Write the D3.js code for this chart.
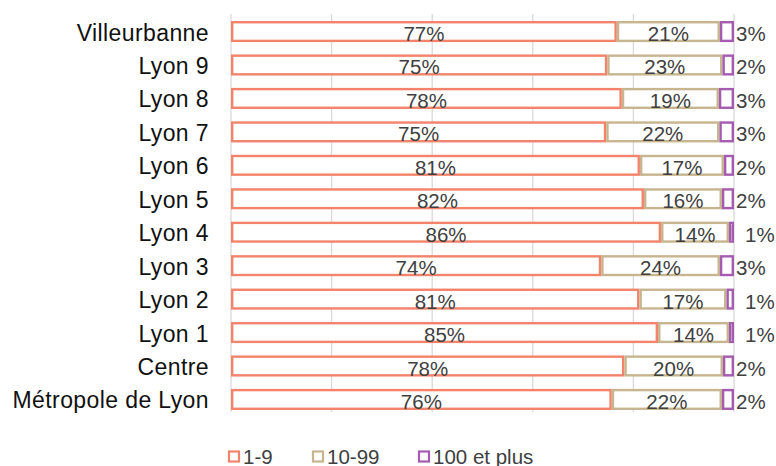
<!DOCTYPE html>
<html>
<head>
<meta charset="utf-8">
<script src="https://cdn.jsdelivr.net/npm/d3@7"></script>
<style>
  body { margin: 0; background: #fff; }
  text { font-family: "Liberation Sans", Arial, sans-serif; }
</style>
</head>
<body>
<svg width="776" height="466"></svg>
<script>
const categories = ['Villeurbanne', 'Lyon 9', 'Lyon 8', 'Lyon 7', 'Lyon 6', 'Lyon 5',
  'Lyon 4', 'Lyon 3', 'Lyon 2', 'Lyon 1', 'Centre', 'Métropole de Lyon'];
const seriesNames = ['1-9', '10-99', '100 et plus'];
const small = [76.7, 74.8, 77.7, 74.6, 81.3, 82.1, 85.5, 73.6, 81.2, 84.9, 78.2, 75.7];
const medium = [20.5, 22.9, 19.3, 22.5, 16.7, 15.5, 13.5, 23.6, 17.3, 14.1, 19.6, 21.9];
const large = [2.8, 2.3, 3.0, 2.9, 2.0, 2.4, 1.0, 2.8, 1.5, 1.0, 2.2, 2.4];
const labels = [
  ['77%', '21%', '3%'], ['75%', '23%', '2%'], ['78%', '19%', '3%'], ['75%', '22%', '3%'],
  ['81%', '17%', '2%'], ['82%', '16%', '2%'], ['86%', '14%', '1%'], ['74%', '24%', '3%'],
  ['81%', '17%', '1%'], ['85%', '14%', '1%'], ['78%', '20%', '2%'], ['76%', '22%', '2%']
];
const gridTicks = [0, 20, 40, 60, 80, 100];

const colors = ['#F4836B', '#C6B58E', '#A55CB0'];

const svg = d3.select('svg');
const x = d3.scaleLinear().domain([0, 100]).range([231, 734]);
const y = d3.scaleBand().domain(categories).range([15, 416]).paddingInner(0.37).paddingOuter(0.18);

// gridlines
svg.append('g').selectAll('line').data(gridTicks).join('line')
  .attr('x1', d => x(d)).attr('x2', d => x(d))
  .attr('y1', 14).attr('y2', 412)
  .attr('stroke', '#D9D9D9').attr('stroke-width', 1.3);

const rows = categories.map((c, i) => {
  const vals = [small[i], medium[i], large[i]];
  let acc = 0;
  return vals.map((v, k) => {
    const s = { cat: c, k, x0: acc, x1: acc + v, label: labels[i][k], v };
    acc += v;
    return s;
  });
}).flat();

svg.append('g').selectAll('rect').data(rows).join('rect')
  .attr('x', d => x(d.x0) + 1.2)
  .attr('width', d => Math.max(x(d.x1) - x(d.x0) - 2.4, 1))
  .attr('y', d => y(d.cat) + 1.2)
  .attr('height', y.bandwidth() - 2.4)
  .attr('fill', '#fff')
  .attr('stroke', d => colors[d.k])
  .attr('stroke-width', 2.4);

svg.append('g').selectAll('text').data(rows).join('text')
  .attr('x', d => d.k < 2 ? x((d.x0 + d.x1) / 2) : x(100) + (d.v < 1.6 ? 11 : 2))
  .attr('y', d => y(d.cat) + y.bandwidth() / 2 + 2)
  .attr('text-anchor', d => d.k < 2 ? 'middle' : 'start')
  .attr('dominant-baseline', 'central')
  .attr('font-size', 20.5)
  .attr('fill', '#404040')
  .text(d => d.label);

// category labels
svg.append('g').selectAll('text').data(categories).join('text')
  .attr('x', 209)
  .attr('y', d => y(d) + y.bandwidth() / 2 + 1)
  .attr('text-anchor', 'end')
  .attr('dominant-baseline', 'central')
  .attr('font-size', 23)
  .attr('letter-spacing', 0.4)
  .attr('fill', '#111')
  .text(d => d);

// legend
const legendX = [228, 312, 418];
const lg = svg.append('g').selectAll('g').data(seriesNames).join('g')
  .attr('transform', (d, i) => `translate(${legendX[i]},455)`);
lg.append('rect')
  .attr('x', 1).attr('y', -3.5).attr('width', 10).attr('height', 10)
  .attr('fill', '#fff')
  .attr('stroke', (d, i) => colors[i]).attr('stroke-width', 2.2);
lg.append('text')
  .attr('x', 15).attr('y', 1)
  .attr('dominant-baseline', 'central')
  .attr('font-size', 20.5)
  .attr('fill', '#404040')
  .text(d => d);
</script>
</body>
</html>
